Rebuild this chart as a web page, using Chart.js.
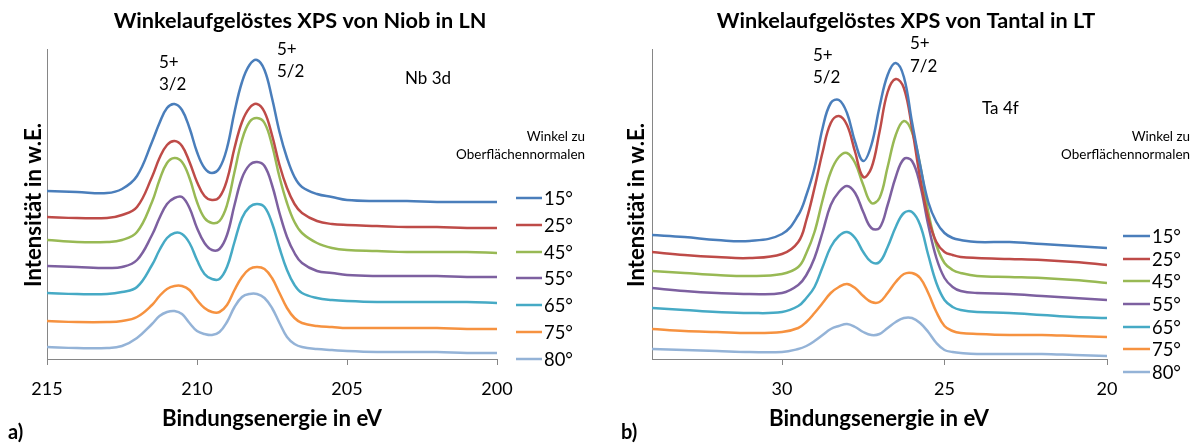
<!DOCTYPE html>
<html>
<head>
<meta charset="utf-8">
<script src="https://cdn.jsdelivr.net/npm/chart.js@4.4.1/dist/chart.umd.min.js"></script>
<style>
  html, body { margin: 0; padding: 0; background: #fff; }
  #wrap { position: relative; width: 1200px; height: 444px; }
  .pane { position: absolute; top: 0; width: 600px; height: 444px; }
</style>
</head>
<body>
<div id="wrap">
  <div class="pane" style="left:0"><canvas id="c1" width="600" height="444"></canvas></div>
  <div class="pane" style="left:600px"><canvas id="c2" width="600" height="444"></canvas></div>
</div>
<script>
// ---------- DATA ----------
const seriesLabels = ['15°', '25°', '45°', '55°', '65°', '75°', '80°'];

// Panel a) Nb 3d in LN
const nbEnergy = [215, 214, 213, 212.5, 212, 211.5, 211.25, 211, 210.75, 210.5, 210.25, 210, 209.75, 209.5, 209.25, 209, 208.75, 208.5, 208.25, 208, 207.75, 207.5, 207.25, 207, 206.75, 206.5, 206, 205.5, 205, 204, 203, 202, 201, 200];
const nb15 = [168, 167, 166, 170, 183, 217, 236, 251, 255, 249, 231, 207, 191, 186, 191, 211, 247, 277, 294, 299, 289, 261, 227, 201, 182, 172, 165, 162, 159, 158, 158, 157, 157, 157];
const nb25 = [142, 141, 141, 144, 152, 182, 201, 214, 218, 213, 197, 177, 163, 159, 162, 179, 211, 237, 251, 255, 247, 224, 194, 171, 155, 146, 138, 135, 134, 133, 132, 132, 131, 131];
const nb45 = [119, 117, 117, 119, 127, 157, 179, 196, 201, 197, 181, 157, 141, 136, 138, 154, 187, 219, 237, 241, 236, 214, 182, 156, 137, 126, 116, 111, 109, 108, 107, 107, 107, 106];
const nb55 = [93, 92, 91, 92, 99, 124, 141, 155, 161, 162, 151, 131, 116, 109, 110, 124, 154, 181, 194, 197, 193, 174, 146, 122, 106, 96, 88, 86, 84, 83, 83, 83, 82, 82];
const nb65 = [66, 65, 65, 67, 72, 94, 109, 121, 126, 125, 116, 99, 85, 80, 80, 92, 117, 141, 152, 155, 152, 136, 111, 89, 74, 66, 61, 59, 58, 57, 57, 57, 57, 56];
const nb75 = [38, 37, 37, 38, 42, 54, 63, 70, 73, 73, 69, 59, 51, 47, 47, 54, 69, 82, 90, 92, 90, 81, 66, 51, 41, 36, 33, 32, 31, 31, 31, 31, 30, 30];
const nb80 = [12, 11, 11, 13, 21, 35, 43, 47, 48, 45, 36, 28, 25, 24, 27, 37, 52, 62, 65, 65, 61, 51, 36, 22, 15, 12, 10, 9, 8, 7, 7, 7, 6, 6];
const nbTicks = [215, 210, 205, 200];

// Panel b) Ta 4f in LT
const taEnergy = [34, 33, 32, 31, 30, 29.5, 29.25, 29, 28.75, 28.5, 28.25, 28, 27.75, 27.5, 27.25, 27, 26.75, 26.5, 26.25, 26, 25.75, 25.5, 25.25, 25, 24.75, 24.5, 24, 23, 22, 21, 20];
const ta15 = [124, 122, 119, 118, 125, 144, 164, 191, 231, 256, 259, 246, 217, 198, 214, 252, 284, 296, 282, 237, 194, 157, 137, 126, 121, 119, 117, 117, 115, 113, 111];
const ta25 = [107, 104, 102, 101, 105, 117, 139, 171, 207, 236, 243, 234, 207, 182, 191, 227, 267, 280, 271, 231, 181, 141, 117, 107, 104, 102, 101, 100, 99, 97, 94];
const ta45 = [88, 86, 84, 83, 85, 92, 106, 127, 159, 187, 202, 206, 196, 174, 156, 161, 192, 224, 238, 227, 194, 147, 114, 96, 89, 86, 83, 82, 81, 79, 76];
const ta55 = [71, 68, 66, 65, 66, 74, 84, 101, 127, 154, 167, 173, 166, 147, 131, 131, 154, 182, 200, 198, 174, 134, 101, 81, 72, 68, 66, 65, 63, 61, 59];
const ta65 = [51, 49, 47, 46, 47, 53, 61, 72, 92, 112, 123, 127, 121, 107, 97, 97, 112, 132, 146, 147, 134, 104, 76, 59, 52, 49, 47, 46, 44, 42, 41];
const ta75 = [30, 28, 27, 26, 27, 31, 37, 46, 56, 66, 72, 75, 71, 63, 57, 57, 66, 77, 85, 86, 81, 66, 47, 33, 28, 26, 25, 24, 24, 23, 22];
const ta80 = [10, 9, 8, 7, 7, 10, 13, 18, 24, 30, 33, 35, 32, 27, 24, 25, 31, 37, 41, 41, 36, 27, 16, 9, 7, 6, 5, 5, 5, 4, 3];
const taTicks = [30, 25, 20];

// ---------- STYLE ----------
const seriesColors = ['#4A7EBB', '#BE4B48', '#98B954', '#7D60A0', '#46AAC5', '#F69240', '#94B3D7'];
const FONT = 'Lato, "Open Sans", sans-serif';
const AXIS = '#868686';

function fitSize(ctx, text, weight, target) {
  ctx.save();
  ctx.font = weight + ' 100px ' + FONT;
  const w = ctx.measureText(text).width;
  ctx.restore();
  return 100 * target / w;
}

const textPlugin = {
  id: 'texts',
  afterDraw(chart, args, o) {
    const ctx = chart.ctx;
    ctx.save();
    ctx.fillStyle = '#000';
    ctx.textBaseline = 'middle';
    // title
    const ts = fitSize(ctx, 'Winkelaufgelöstes XPS von Niob in LN', 'bold', 373);
    ctx.font = 'bold ' + ts.toFixed(2) + 'px ' + FONT;
    ctx.textAlign = 'center';
    ctx.fillText(o.title, o.titleX, 21);
    // axis titles
    const as = fitSize(ctx, 'Bindungsenergie in eV', 'bold', 220);
    ctx.font = 'bold ' + as.toFixed(2) + 'px ' + FONT;
    ctx.fillText('Bindungsenergie in eV', o.xTitleX, 419);
    ctx.save();
    ctx.translate(o.yTitleX, 205);
    ctx.rotate(-Math.PI / 2);
    ctx.fillText('Intensität in w.E.', 0, 0);
    ctx.restore();
    // panel label
    ctx.textAlign = 'left';
    ctx.font = 'bold 20px ' + FONT;
    ctx.fillText(o.panel, o.panelX, 433);
    // annotations
    ctx.font = '17px ' + FONT;
    o.notes.forEach(n => ctx.fillText(n[0], n[1], n[2]));
    // legend header
    const hs = fitSize(ctx, 'Oberflächennormalen', 'normal', 129);
    ctx.font = hs.toFixed(2) + 'px ' + FONT;
    ctx.textAlign = 'right';
    ctx.fillText('Winkel zu', o.headRight, 137);
    ctx.fillText('Oberflächennormalen', o.headRight, 155);
    // legend
    const ls = fitSize(ctx, '80°', 'normal', 29);
    ctx.font = ls.toFixed(2) + 'px ' + FONT;
    ctx.textAlign = 'left';
    chart.data.datasets.forEach((ds, i) => {
      const y = o.legendY[i];
      ctx.strokeStyle = ds.borderColor;
      ctx.lineWidth = 2.5;
      ctx.beginPath();
      ctx.moveTo(o.legendX1, y);
      ctx.lineTo(o.legendX2, y);
      ctx.stroke();
      ctx.fillText(ds.label, o.legendX2 + 2, y + 1);
    });
    ctx.restore();
  }
};

function makeChart(id, energy, series, ticks, xmin, xmax, pad, texts) {
  const datasets = series.map((vals, i) => ({
    label: seriesLabels[i],
    data: energy.map((e, k) => ({ x: e, y: vals[k] })),
    borderColor: seriesColors[i],
    backgroundColor: seriesColors[i],
    borderWidth: 2.5,
    pointRadius: 0,
    tension: 0.4,
    fill: false,
    order: i
  }));
  return new Chart(document.getElementById(id), {
    type: 'line',
    data: { datasets },
    plugins: [textPlugin],
    options: {
      responsive: false,
      animation: false,
      events: [],
      layout: { padding: pad },
      plugins: { legend: { display: false }, tooltip: { enabled: false }, title: { display: false }, texts },
      scales: {
        x: {
          type: 'linear',
          reverse: true,
          min: xmin, max: xmax,
          afterBuildTicks: s => { s.ticks = ticks.map(v => ({ value: v })); },
          afterFit: s => { s.height = 85; },
          grid: { display: true, drawOnChartArea: false, drawTicks: true, tickLength: 6, color: AXIS, lineWidth: 1 },
          border: { display: true, color: AXIS, width: 1 },
          ticks: { color: '#000', font: { family: FONT, size: 18 }, padding: 13, maxRotation: 0, autoSkip: false,
                   callback: v => String(v) }
        },
        y: {
          min: 0, max: 310,
          afterFit: s => { s.width = 0; },
          grid: { display: false },
          border: { display: true, color: AXIS, width: 1 },
          ticks: { display: false }
        }
      }
    }
  });
}

makeChart('c1', nbEnergy, [nb15, nb25, nb45, nb55, nb65, nb75, nb80], nbTicks, 200, 215,
  { left: 47, right: 103, top: 49, bottom: 0 },
  {
    title: 'Winkelaufgelöstes XPS von Niob in LN', titleX: 300,
    xTitleX: 272, yTitleX: 34, panel: 'a)', panelX: 8,
    notes: [['5+', 159, 63], ['3/2', 159, 85], ['5+', 277, 50], ['5/2', 277, 72], ['Nb 3d', 405, 79]],
    headRight: 585,
    legendX1: 516, legendX2: 542,
    legendY: [198, 225, 252, 278, 305, 332, 359]
  });

makeChart('c2', taEnergy, [ta15, ta25, ta45, ta55, ta65, ta75, ta80], taTicks, 20, 34,
  { left: 52, right: 93, top: 49, bottom: 0 },
  {
    title: 'Winkelaufgelöstes XPS von Tantal in LT', titleX: 306,
    xTitleX: 279, yTitleX: 37, panel: 'b)', panelX: 21,
    notes: [['5+', 213, 56], ['5/2', 213, 78], ['5+', 310, 44], ['7/2', 310, 67], ['Ta 4f', 382, 109]],
    headRight: 590,
    legendX1: 523, legendX2: 550,
    legendY: [236, 259, 281, 304, 327, 349, 372]
  });
</script>
</body>
</html>
